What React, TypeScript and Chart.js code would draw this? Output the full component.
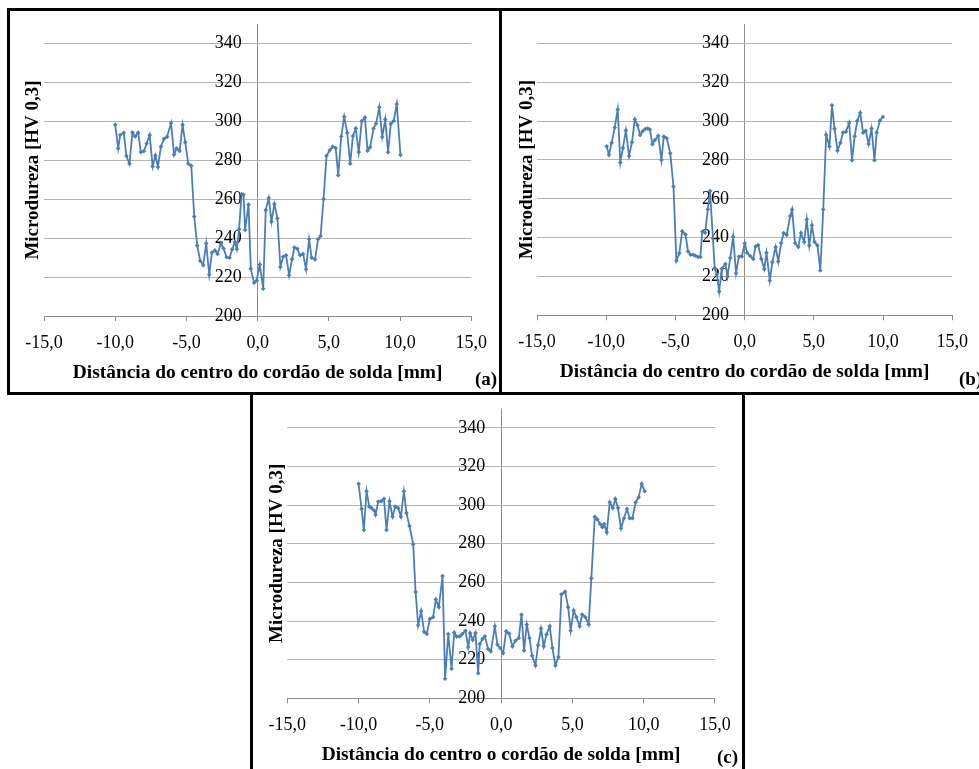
import React, { useEffect, useRef } from "react";
import { Chart, registerables } from "chart.js";

Chart.register(...registerables);

// ---- data ----
const xTicks = [-15, -10, -5, 0, 5, 10, 15];
const yTicks = [200, 220, 240, 260, 280, 300, 320, 340];

const distA = [-10.0, -9.79, -9.65, -9.4, -9.21, -9.0, -8.79, -8.6, -8.39, -8.2, -7.99, -7.79, -7.58, -7.37, -7.18, -7.0, -6.79, -6.57, -6.36, -6.08, -5.87, -5.69, -5.48, -5.27, -5.08, -4.87, -4.66, -4.45, -4.24, -4.03, -3.82, -3.61, -3.4, -3.21, -3.0, -2.81, -2.58, -2.39, -2.18, -1.97, -1.79, -1.6, -1.46, -1.3, -1.13, -0.99, -0.88, -0.64, -0.48, -0.25, -0.06, 0.15, 0.39, 0.57, 0.78, 0.97, 1.18, 1.39, 1.6, 1.79, 2.0, 2.21, 2.42, 2.58, 2.79, 2.98, 3.19, 3.4, 3.61, 3.79, 4.03, 4.24, 4.42, 4.63, 4.84, 5.06, 5.27, 5.48, 5.66, 5.87, 6.08, 6.29, 6.5, 6.69, 6.89, 7.1, 7.31, 7.53, 7.72, 7.9, 8.14, 8.32, 8.54, 8.75, 8.96, 9.16, 9.35, 9.56, 9.77, 10.03];
const hardA = [298.2, 286.1, 293.0, 294.1, 282.2, 278.2, 294.2, 292.2, 294.2, 284.2, 284.6, 288.6, 293.0, 276.8, 282.5, 276.6, 287.0, 291.0, 292.0, 299.1, 282.9, 286.1, 284.8, 298.2, 289.2, 278.2, 277.2, 251.1, 236.2, 228.3, 226.1, 237.3, 221.2, 232.6, 233.7, 231.9, 237.1, 234.7, 230.2, 229.9, 234.2, 238.0, 234.4, 244.5, 262.7, 262.3, 244.2, 257.3, 224.3, 217.1, 218.3, 226.4, 214.0, 254.4, 260.6, 248.5, 257.5, 250.2, 225.2, 230.4, 231.2, 220.9, 229.2, 235.2, 234.5, 231.2, 231.9, 224.0, 239.4, 230.0, 229.0, 239.4, 241.1, 260.1, 282.3, 285.1, 287.0, 286.3, 272.3, 292.2, 302.4, 294.1, 278.2, 292.5, 296.3, 284.2, 300.1, 302.0, 284.9, 286.7, 296.3, 298.9, 307.2, 292.0, 301.0, 284.1, 298.7, 300.3, 308.9, 282.7];

const distB = [-9.97, -9.8, -9.61, -9.38, -9.17, -8.98, -8.79, -8.58, -8.35, -8.14, -7.93, -7.74, -7.55, -7.37, -7.18, -7.01, -6.85, -6.66, -6.48, -6.24, -6.01, -5.84, -5.63, -5.37, -5.14, -4.93, -4.72, -4.51, -4.27, -4.09, -3.9, -3.71, -3.55, -3.36, -3.2, -3.06, -2.85, -2.66, -2.5, -2.16, -2.0, -1.84, -1.65, -1.39, -1.24, -1.04, -0.83, -0.62, -0.41, -0.2, 0.01, 0.18, 0.41, 0.62, 0.79, 0.98, 1.21, 1.42, 1.58, 1.82, 2.0, 2.24, 2.43, 2.64, 2.82, 3.04, 3.29, 3.43, 3.64, 3.88, 4.07, 4.3, 4.49, 4.67, 4.86, 5.05, 5.26, 5.47, 5.68, 5.89, 6.13, 6.31, 6.5, 6.71, 6.92, 7.11, 7.32, 7.55, 7.76, 7.95, 8.14, 8.35, 8.56, 8.75, 8.96, 9.17, 9.38, 9.54, 9.78, 9.99];
const hardB = [287.0, 282.7, 288.8, 296.7, 306.0, 278.7, 286.2, 295.2, 282.0, 289.1, 300.9, 297.9, 292.9, 294.8, 295.9, 296.2, 295.7, 288.1, 290.3, 292.4, 280.0, 292.0, 291.2, 283.4, 266.3, 228.1, 231.9, 243.3, 241.6, 232.9, 231.2, 231.2, 230.7, 230.0, 230.0, 243.0, 242.5, 254.6, 264.0, 224.3, 221.0, 212.2, 224.0, 226.4, 220.0, 229.5, 240.5, 221.7, 230.3, 230.3, 237.1, 232.2, 230.5, 229.0, 235.4, 236.2, 229.0, 223.8, 232.2, 217.9, 227.4, 235.2, 227.7, 237.2, 242.4, 241.4, 251.1, 254.5, 237.2, 235.2, 242.4, 237.8, 249.3, 236.0, 246.4, 237.8, 236.0, 223.1, 254.5, 292.9, 286.9, 308.1, 296.0, 284.8, 288.8, 294.1, 294.5, 299.1, 279.9, 292.2, 300.2, 304.3, 294.0, 295.0, 288.2, 296.2, 279.9, 294.1, 300.3, 302.1];

const distC = [-10.0, -9.79, -9.63, -9.44, -9.25, -9.09, -8.9, -8.81, -8.62, -8.41, -8.22, -8.04, -7.83, -7.62, -7.43, -7.22, -7.03, -6.82, -6.64, -6.43, -6.17, -6.0, -5.82, -5.61, -5.4, -5.21, -5.0, -4.77, -4.58, -4.37, -4.11, -3.93, -3.71, -3.48, -3.29, -3.11, -2.9, -2.73, -2.5, -2.31, -2.17, -1.99, -1.8, -1.61, -1.5, -1.31, -1.14, -0.91, -0.72, -0.44, -0.26, -0.07, 0.14, 0.35, 0.56, 0.79, 1.0, 1.24, 1.43, 1.61, 1.8, 1.99, 2.17, 2.41, 2.59, 2.8, 2.99, 3.18, 3.41, 3.6, 3.81, 4.02, 4.23, 4.49, 4.7, 4.88, 5.09, 5.28, 5.51, 5.68, 5.91, 6.14, 6.33, 6.57, 6.75, 6.94, 7.1, 7.22, 7.41, 7.62, 7.83, 8.01, 8.2, 8.41, 8.62, 8.83, 9.02, 9.21, 9.44, 9.65, 9.86, 10.07];
const hardC = [311.0, 298.0, 287.1, 307.2, 299.2, 298.5, 297.2, 295.0, 301.8, 302.0, 303.2, 287.1, 302.0, 294.0, 299.2, 298.5, 294.0, 307.2, 295.9, 289.2, 279.8, 255.0, 237.8, 245.1, 234.4, 233.3, 241.1, 242.0, 251.2, 247.2, 263.3, 210.1, 233.3, 215.3, 234.0, 231.9, 232.1, 233.3, 235.0, 226.5, 233.7, 230.2, 233.8, 213.0, 228.1, 230.7, 232.1, 225.5, 224.3, 237.3, 227.8, 226.0, 223.4, 234.7, 233.5, 226.9, 229.8, 231.2, 243.4, 224.8, 238.2, 231.2, 222.0, 217.0, 227.4, 236.1, 226.9, 233.0, 237.3, 226.0, 217.0, 221.3, 253.8, 255.2, 247.2, 235.0, 245.5, 242.0, 237.3, 243.4, 242.0, 238.2, 262.1, 294.0, 292.6, 290.2, 288.5, 290.2, 285.9, 301.5, 298.5, 303.2, 298.5, 288.0, 293.2, 298.0, 293.2, 293.2, 301.5, 304.1, 311.0, 307.2];

const xTitleAB = "Distância do centro do cordão de solda [mm]";
const xTitleC = "Distância do centro o cordão de solda [mm]";
const yTitle = "Microdureza [HV 0,3]";

// ---- styles ----
const SERIF = "'Liberation Serif', 'Times New Roman', serif";
const LINE = "#4a7ebb";
const GRID = "#b4b4b4";
const AXIS = "#8e8e8e";

type Cfg = {
  left: number; top: number; width: number; height: number;
  padRight: number; padTop: number; padBottom: number;
  xTickPad: number; xTitlePadTop: number;
  yTitlePadTop: number; yTitlePadBottom: number;
  yLabelAt: number;
};

function Panel({ dist, hard, xTitle, cfg }: { dist: number[]; hard: number[]; xTitle: string; cfg: Cfg }) {
  const ref = useRef<HTMLCanvasElement>(null);
  useEffect(() => {
    const chart = new Chart(ref.current as HTMLCanvasElement, {
      type: "line",
      data: {
        datasets: [
          {
            data: dist.map((x, i) => ({ x, y: hard[i] })),
            borderColor: LINE,
            backgroundColor: LINE,
            borderWidth: 1.8,
            pointRadius: 2.3,
            pointStyle: "rectRot",
            pointBorderWidth: 0,
            tension: 0,
          },
        ],
      },
      options: {
        animation: false,
        responsive: false,
        devicePixelRatio: 1,
        layout: { padding: { left: 0, right: cfg.padRight, top: cfg.padTop, bottom: cfg.padBottom } },
        plugins: { legend: { display: false }, tooltip: { enabled: false } },
        scales: {
          x: {
            type: "linear",
            min: -15,
            max: 15,
            afterBuildTicks: (s: any) => {
              s.ticks = xTicks.map((v) => ({ value: v }));
            },
            grid: {
              drawOnChartArea: true,
              drawTicks: true,
              tickLength: 5,
              color: (ctx: any) => (ctx.tick && ctx.tick.value === 0 ? AXIS : "rgba(0,0,0,0)"),
              tickColor: AXIS,
            },
            border: { display: true, color: AXIS },
            ticks: {
              padding: cfg.xTickPad,
              color: "#000",
              font: { family: SERIF, size: 18 },
              maxRotation: 0,
              autoSkip: false,
              callback: (v: any) => Number(v).toFixed(1).replace(".", ","),
            },
            title: {
              display: true,
              text: xTitle,
              color: "#000",
              font: { family: SERIF, size: 19.4, weight: "bold", lineHeight: 1 },
              padding: { top: cfg.xTitlePadTop, bottom: 0 },
            },
          },
          y: {
            type: "linear",
            position: { x: cfg.yLabelAt } as any,
            min: 200,
            max: 350,
            afterBuildTicks: (s: any) => {
              s.ticks = yTicks.map((v) => ({ value: v }));
            },
            grid: { color: GRID, drawTicks: false },
            border: { display: false },
            ticks: { padding: 0, color: "#000", font: { family: SERIF, size: 18 } },
          },
          yt: {
            type: "linear",
            position: "left",
            ticks: { display: false },
            grid: { display: false, drawTicks: false },
            border: { display: false },
            title: {
              display: true,
              text: yTitle,
              color: "#000",
              font: { family: SERIF, size: 19, weight: "bold", lineHeight: 1 },
              padding: { top: cfg.yTitlePadTop, bottom: cfg.yTitlePadBottom },
            },
          },
        },
      } as any,
    });
    return () => chart.destroy();
  }, []);
  return (
    <canvas
      ref={ref}
      width={cfg.width}
      height={cfg.height}
      style={{ position: "absolute", left: cfg.left, top: cfg.top, width: cfg.width, height: cfg.height }}
    />
  );
}

const cfgA: Cfg = { left: 10, top: 11, width: 488, height: 381, padRight: 25, padTop: 13, padBottom: 9.8, xTickPad: 11, xTitlePadTop: -1.8, yTitlePadTop: 13.5, yTitlePadBottom: 1.5, yLabelAt: -1.12 };
const cfgB: Cfg = { left: 502, top: 11, width: 477, height: 381, padRight: 15, padTop: 13, padBottom: 10.5, xTickPad: 11, xTitlePadTop: -1.8, yTitlePadTop: 15.5, yTitlePadBottom: 0.5, yLabelAt: -1.12 };
const cfgC: Cfg = { left: 253, top: 395, width: 489, height: 374, padRight: 26.7, padTop: 13.5, padBottom: 4.2, xTickPad: 11.3, xTitlePadTop: -2.1, yTitlePadTop: 14.5, yTitlePadBottom: 0.8, yLabelAt: -1.12 };

const boxStyle = (left: number, top: number, width: number, height: number): React.CSSProperties => ({
  position: "absolute",
  left,
  top,
  width,
  height,
  border: "3px solid #000",
  boxSizing: "border-box",
});

const labelStyle = (left: number, top: number): React.CSSProperties => ({
  position: "absolute",
  left,
  top,
  font: `bold 19px ${SERIF}`,
  lineHeight: "19px",
  color: "#000",
  whiteSpace: "nowrap",
});

export default function App() {
  return (
    <div style={{ position: "absolute", left: 0, top: 0, width: 979, height: 769, overflow: "hidden", background: "#fff" }}>
      <div style={boxStyle(7, 8, 495, 387)} />
      <div style={boxStyle(499, 8, 510, 387)} />
      <div style={boxStyle(250, 392, 495, 400)} />
      <Panel dist={distA} hard={hardA} xTitle={xTitleAB} cfg={cfgA} />
      <Panel dist={distB} hard={hardB} xTitle={xTitleAB} cfg={cfgB} />
      <Panel dist={distC} hard={hardC} xTitle={xTitleC} cfg={cfgC} />
      <span style={labelStyle(475, 369)}>(a)</span>
      <span style={labelStyle(959, 369)}>(b)</span>
      <span style={labelStyle(717, 747)}>(c)</span>
    </div>
  );
}
